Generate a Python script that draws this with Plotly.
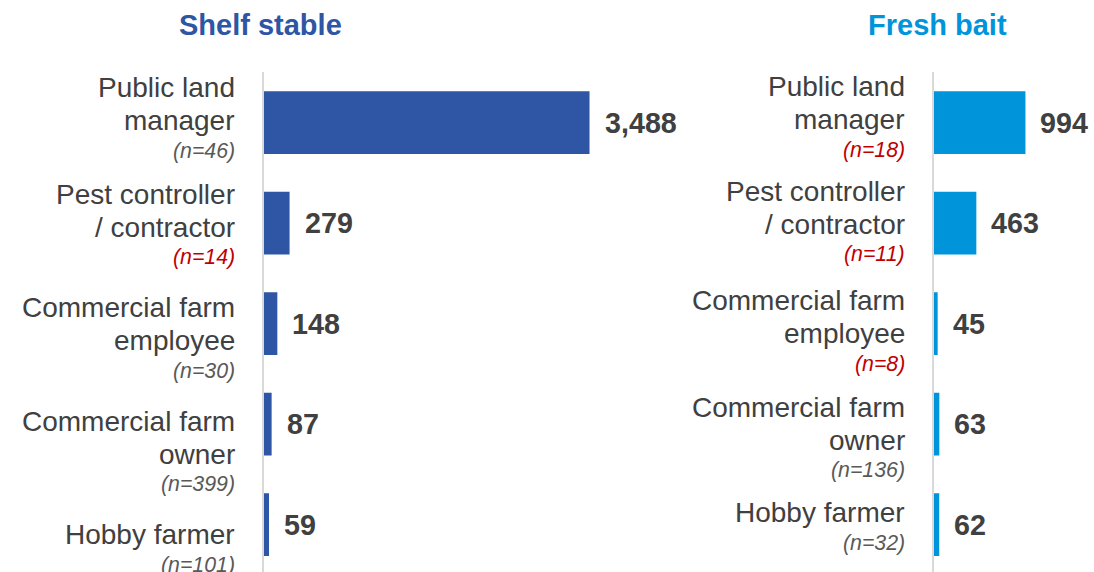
import plotly.graph_objects as go

# ---------------- data ----------------
categories = ["Public land manager", "Pest controller / contractor",
              "Commercial farm employee", "Commercial farm owner", "Hobby farmer"]
label_lines = [["Public land", "manager"],
               ["Pest controller", "/ contractor"],
               ["Commercial farm", "employee"],
               ["Commercial farm", "owner"],
               ["Hobby farmer"]]
shelf_values = [3488, 279, 148, 87, 59]
shelf_n = [46, 14, 30, 399, 101]
fresh_values = [994, 463, 45, 63, 62]
fresh_n = [18, 11, 8, 136, 32]
panel_titles = ["Shelf stable", "Fresh bait"]
low_n_threshold = 30

# ---------------- style / layout ----------------
W, H = 1094, 572
FONT = "Arial, Liberation Sans, sans-serif"
TEXT = "#404040"
NGRAY = "#595959"
RED = "#C00000"
COL_SHELF = "#2F55A5"
COL_FRESH = "#0095DA"
AXIS = "#D9D9D9"

# first-line offsets (px below bar centre) of the category label blocks
shelf_label_offset = [-35, -29, -16, -3, 10]
fresh_label_offset = [-36, -32, -23, -17, -12]
LINE_GAP = 33
N_GAP = 30

fig = go.Figure()
fig.add_trace(go.Bar(y=categories, x=shelf_values, orientation="h",
                     marker=dict(color=COL_SHELF, line=dict(width=0)),
                     width=0.625, xaxis="x", yaxis="y", hoverinfo="skip"))
fig.add_trace(go.Bar(y=categories, x=fresh_values, orientation="h",
                     marker=dict(color=COL_FRESH, line=dict(width=0)),
                     width=0.625, xaxis="x2", yaxis="y2", hoverinfo="skip"))

top_px = 72
ydom = [0, 1 - top_px / H]
yrange = [4.472, -0.503]

annotations = []


def panel(values, ns, offsets, xref, yref):
    for i, cat in enumerate(categories):
        # value labels
        annotations.append(dict(
            x=values[i], y=cat, xref=xref, yref=yref, text=f"<b>{values[i]:,}</b>",
            showarrow=False, xanchor="left", yanchor="middle", xshift=13,
            font=dict(family=FONT, size=28.7, color=TEXT)))
        # category labels
        off = offsets[i]
        for j, ln in enumerate(label_lines[i]):
            annotations.append(dict(
                x=0, y=cat, xref=xref, yref=yref, text=ln, showarrow=False,
                xanchor="right", yanchor="middle", xshift=-27,
                yshift=-(off + j * LINE_GAP),
                font=dict(family=FONT, size=28, color=TEXT)))
        last = off + (len(label_lines[i]) - 1) * LINE_GAP
        ncol = RED if ns[i] < low_n_threshold else NGRAY
        annotations.append(dict(
            x=0, y=cat, xref=xref, yref=yref, text=f"<i>(n={ns[i]})</i>",
            showarrow=False, xanchor="right", yanchor="middle", xshift=-27,
            yshift=-(last + N_GAP),
            font=dict(family=FONT, size=21.3, color=ncol)))


panel(shelf_values, shelf_n, shelf_label_offset, "x", "y")
panel(fresh_values, fresh_n, fresh_label_offset, "x2", "y2")

annotations.append(dict(x=260 / W, y=1 - 25 / H, xref="paper", yref="paper",
                        text=f"<b>{panel_titles[0]}</b>", showarrow=False,
                        xanchor="center", yanchor="middle",
                        font=dict(family=FONT, size=29, color=COL_SHELF)))
annotations.append(dict(x=937 / W, y=1 - 25 / H, xref="paper", yref="paper",
                        text=f"<b>{panel_titles[1]}</b>", showarrow=False,
                        xanchor="center", yanchor="middle",
                        font=dict(family=FONT, size=29, color=COL_FRESH)))

axis_common = dict(showgrid=False, zeroline=False, showticklabels=False, ticks="")
fig.update_layout(
    width=W, height=H,
    margin=dict(l=0, r=0, t=0, b=0),
    paper_bgcolor="white", plot_bgcolor="white",
    showlegend=False,
    xaxis=dict(domain=[263.5 / W, 700 / W], range=[0, 4670], **axis_common),
    xaxis2=dict(domain=[933.5 / W, 1], range=[0, 1735], **axis_common),
    yaxis=dict(domain=ydom, range=yrange, anchor="x", type="category",
               categoryorder="array", categoryarray=categories,
               showline=True, linecolor=AXIS, linewidth=1.5, **axis_common),
    yaxis2=dict(domain=ydom, range=yrange, anchor="x2", type="category",
                categoryorder="array", categoryarray=categories,
                showline=True, linecolor=AXIS, linewidth=1.5, **axis_common),
    annotations=annotations,
)

fig.write_html("out.html", config={"displayModeBar": False},
               post_script="document.body.style.margin='0';"
                           "document.body.style.overflow='hidden';")
